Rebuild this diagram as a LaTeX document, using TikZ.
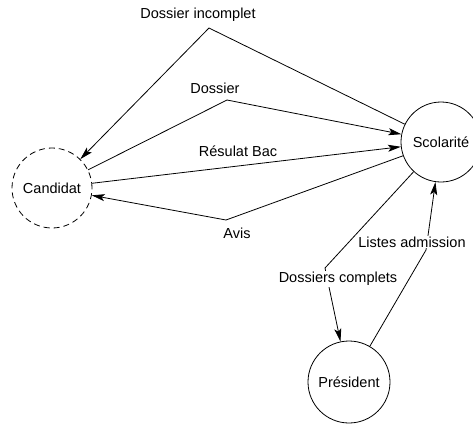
\documentclass[tikz,border=0pt]{standalone}
\usepackage{fontspec}
\setmainfont{Liberation Sans}
\usetikzlibrary{arrows.meta}
\begin{document}
\begin{tikzpicture}[x=1pt,y=-1pt, line width=0.8pt,
  font=\fontsize{14.5}{17}\selectfont,
  actor/.style={circle, draw, inner sep=0pt},
  flow/.style={-{Stealth[length=13pt,width=7pt,inset=3pt]}},
  lbl/.style={inner sep=1pt},
  lblw/.style={inner sep=1pt, fill=white}]
\useasboundingbox (0,0) rectangle (473,424);
\node[actor, dash pattern=on 6pt off 4pt, minimum size=80pt] (cand) at (52,188) {Candidat};
\node[actor, minimum size=80pt] (scol) at (441,142) {Scolarité};
\node[actor, minimum size=82pt] (pres) at (349,382) {Président};
\coordinate (b1) at (209,28);
\coordinate (b2) at (227,100);
\coordinate (b4) at (226,220);
\coordinate (b5) at (325,268);
\coordinate (b6) at (426,250);
\draw[flow] (scol) -- (b1) -- (cand);
\draw[flow] (cand) -- (b2) -- (scol);
\draw[flow] (cand) -- (scol);
\draw[flow] (scol) -- (b4) -- (cand);
\draw[flow] (scol) -- (b5) -- (pres);
\draw[flow] (pres) -- (b6) -- (scol);
\node[lbl] (l1) at (198,15) {Dossier incomplet};
\node[lbl] (l2) at (215,88) {Dossier};
\node[lbl] (l3) at (238,151) {Résulat Bac};
\node[lbl] (l4) at (237,233) {Avis};
\node[lblw] (l5) at (338,279) {Dossiers complets};
\node[lblw] (l6) at (412,242) {Listes admission};
\end{tikzpicture}
\end{document}
